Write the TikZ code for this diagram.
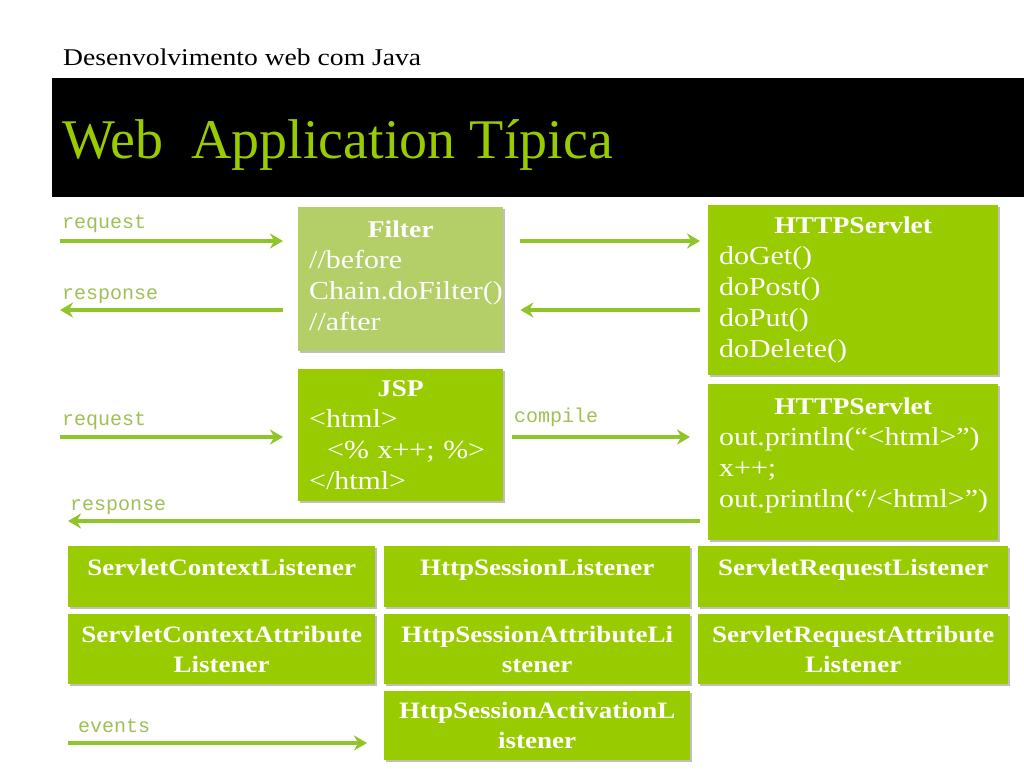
\documentclass[tikz,border=0pt]{standalone}
\usepackage{fontspec}
\setmainfont[FakeStretch=1.15]{Liberation Serif}
\newfontfamily\titlefont{Liberation Serif}
\setmonofont{Liberation Mono}
\usetikzlibrary{arrows.meta,shadows}
\definecolor{brightgreen}{RGB}{153,204,0}
\definecolor{filtergreen}{RGB}{180,206,104}
\definecolor{arrowgreen}{RGB}{143,197,40}
\definecolor{labelgreen}{RGB}{158,192,84}
\tikzset{
  shadowed/.style={drop shadow={shadow xshift=1.5pt,shadow yshift=-2pt,fill=black,opacity=0.25}},
  box/.style={anchor=north west, fill=brightgreen, text=white, inner xsep=11pt, inner ysep=0pt,
    align=left, font=\fontsize{26}{31}\selectfont, shadowed},
  lbox/.style={anchor=north west, fill=brightgreen, text=white, inner xsep=4pt, inner ysep=0pt,
    align=center, font=\bfseries\fontsize{23.5}{30}\selectfont, shadowed},
  flow/.style={draw=arrowgreen, line width=4pt, -{Stealth[length=13pt,width=15pt]}},
  lbl/.style={anchor=base west, text=labelgreen, font=\ttfamily\fontsize{20}{20}\selectfont, inner sep=0pt}
}
\newcommand{\boxhead}[1]{\makebox[\hsize]{\bfseries\fontsize{24}{31}\selectfont #1}}
\begin{document}
\begin{tikzpicture}[x=1pt,y=-1pt]
\useasboundingbox (0,0) rectangle (1024,768);
\fill[white] (0,0) rectangle (1024,768);

% header
\node[anchor=base west, inner sep=0pt, font=\fontsize{24}{24}\selectfont] (hdr) at (63,65) {Desenvolvimento web com Java};
\node[fill=black, anchor=north west, minimum width=972pt, minimum height=119pt, inner sep=0pt] (band) at (52,78) {};
\node[anchor=base west, inner sep=0pt, text=brightgreen, font=\titlefont\fontsize{56}{56}\selectfont] (title) at (62,158) {Web\ \ Application Típica};

% boxes
\node[box, fill=filtergreen, minimum width=205pt, text width=183pt, minimum height=144pt] (filter) at (298,207)
  {\boxhead{Filter}\\//before\\Chain.doFilter()\\//after\\[-23pt]\mbox{}};
\node[box, minimum width=290pt, text width=268pt, minimum height=170pt] (srv1) at (708,205)
  {\boxhead{HTTPServlet}\\doGet()\\doPost()\\doPut()\\doDelete()};
\node[box, minimum width=205pt, text width=183pt, minimum height=132pt] (jsp) at (298,369)
  {\boxhead{JSP}\\<html>\\\hspace*{18pt}<\% x++; \%>\\</html>};
\node[box, minimum width=290pt, text width=268pt, minimum height=156pt] (srv2) at (708,384)
  {\boxhead{HTTPServlet}\\out.println(“<html>”)\\x++;\\out.println(“/<html>”)\\[-11pt]\mbox{}};

% listeners
\node[lbox, minimum width=307pt, text width=299pt, minimum height=61pt, text depth=18pt] (scl) at (68,546) {ServletContextListener};
\node[lbox, minimum width=306pt, text width=298pt, minimum height=61pt, text depth=18pt] (hsl) at (384,546) {HttpSessionListener};
\node[lbox, minimum width=310pt, text width=302pt, minimum height=61pt, text depth=18pt] (srl) at (698,546) {ServletRequestListener};
\node[lbox, minimum width=307pt, text width=299pt, minimum height=70pt] (scal) at (68,614) {ServletContextAttribute\\Listener};
\node[lbox, minimum width=306pt, text width=298pt, minimum height=70pt] (hsal) at (384,614) {HttpSessionAttributeLi\\stener};
\node[lbox, minimum width=310pt, text width=302pt, minimum height=70pt] (sral) at (698,614) {ServletRequestAttribute\\Listener};
\node[lbox, minimum width=306pt, text width=298pt, minimum height=69pt] (hsacl) at (384,691) {HttpSessionActivationL\\istener};

% free ends
\coordinate (q1) at (60,241);
\coordinate (p1) at (60,310);
\coordinate (q2) at (60,437);
\coordinate (p2) at (68,521);
\coordinate (ev) at (68,743);

% arrows
\draw[flow, shorten >=15pt] (q1) -- (q1 -| filter.west);
\draw[flow, shorten <=15pt] (p1 -| filter.west) -- (p1);
\draw[flow, shorten <=17pt, shorten >=8pt] (filter.east |- q1) -- (srv1.west |- q1);
\draw[flow, shorten <=8pt, shorten >=17pt] (srv1.west |- p1) -- (filter.east |- p1);
\draw[flow, shorten >=15pt] (q2) -- (q2 -| jsp.west);
\draw[flow, shorten <=9pt, shorten >=18pt] (jsp.east |- q2) -- (srv2.west |- q2);
\draw[flow, shorten <=8pt] (srv2.west |- p2) -- (p2);
\draw[flow, shorten >=17pt] (ev) -- (ev -| hsacl.west);

% labels
\node[lbl] (l1) at (62,228) {request};
\node[lbl] (l2) at (62,299) {response};
\node[lbl] (l3) at (62,425) {request};
\node[lbl] (l4) at (514,422) {compile};
\node[lbl] (l5) at (70,510) {response};
\node[lbl] (l6) at (78,732) {events};
\end{tikzpicture}
\end{document}
